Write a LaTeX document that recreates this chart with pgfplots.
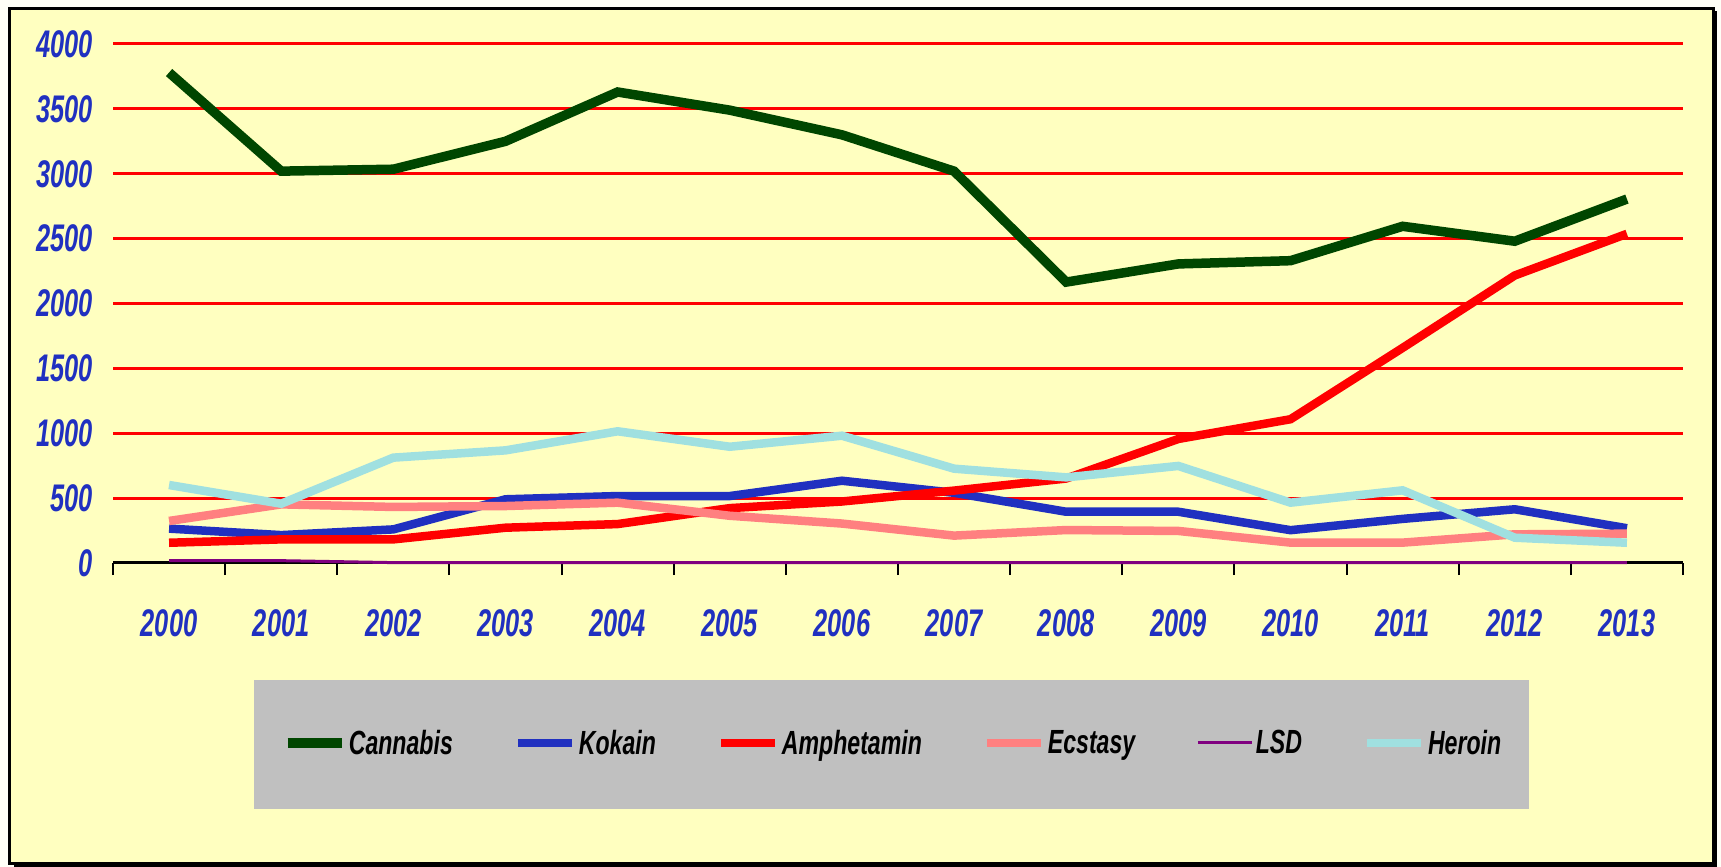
\documentclass[border=0pt]{standalone}
\usepackage{pgfplots}
\pgfplotsset{compat=1.18}
\usepackage{fontspec}
\setmainfont{Liberation Sans}
\newfontfamily\tickfont{Liberation Sans}[FakeStretch=0.66]
\newfontfamily\legfont{Liberation Sans}[FakeStretch=0.69]
\definecolor{bg}{HTML}{FFFFC0}
\definecolor{leggray}{HTML}{C0C0C0}
\definecolor{tickblue}{RGB}{32,48,192}
\definecolor{cannabis}{RGB}{0,70,0}
\definecolor{kokain}{RGB}{32,48,192}
\definecolor{amph}{RGB}{255,0,0}
\definecolor{ecstasy}{RGB}{255,128,128}
\definecolor{lsd}{RGB}{128,0,128}
\definecolor{heroin}{RGB}{160,224,224}
\begin{document}
\begin{tikzpicture}
\path[use as bounding box] (0pt,0pt) rectangle (1721pt,867pt);
\fill[white!97!yellow] (0pt,0pt) rectangle (1721pt,867pt);
\filldraw[fill=bg, draw=black, line width=3pt] (9.5pt,3pt) rectangle (1713pt,858.5pt);
\fill[black] (1711.5pt,0pt) rectangle (1717pt,856pt);
\fill[black] (14pt,0pt) rectangle (1717pt,4.5pt);
\fill[leggray] (254pt,58pt) rectangle (1529pt,187pt);
\begin{axis}[
  at={(113pt,304pt)}, anchor=origin,
  scale only axis, width=1570pt, height=519pt,
  xmin=0, xmax=14, ymin=0, ymax=4000,
  clip=false,
  axis x line*=bottom, axis y line*=left,
  y axis line style={draw=none},
  x axis line style={line width=3pt, black},
  xtick={0.5,1.5,...,13.5},
  xticklabels={2000,2001,2002,2003,2004,2005,2006,2007,2008,2009,2010,2011,2012,2013},
  major tick length=0pt,
  major x tick style={draw=none},
  minor xtick={0,1,...,14},
  minor tick length=12pt,
  minor x tick style={black, line width=2pt},
  tick align=outside,
  ytick={0,500,1000,1500,2000,2500,3000,3500,4000},
  yticklabels={0,500,1000,1500,2000,2500,3000,3500,4000},
  major y tick style={draw=none},
  ymajorgrids, y grid style={red, line width=3pt},
  xticklabel style={font=\tickfont\bfseries\itshape\fontsize{38.5}{38.5}\selectfont, text=tickblue, anchor=north, inner sep=0pt, yshift=-46pt},
  yticklabel style={font=\tickfont\bfseries\itshape\fontsize{38.5}{38.5}\selectfont, text=tickblue, anchor=east, inner sep=0pt, xshift=-20pt},
  legend style={at={(axis description cs:0.4962,-0.3468)}, anchor=center, draw=none, fill=none,
    legend columns=6, font=\legfont\bfseries\itshape\fontsize{33.5}{33.5}\selectfont,
    nodes={inner sep=0pt},
    /tikz/every odd column/.append style={column sep=2.5pt},
    /tikz/every even column/.append style={column sep=61pt}},
  legend image code/.code={\draw[#1] (0pt,0pt) -- (54pt,0pt);},
]
\addplot[cannabis, line width=9.5pt] coordinates {(0.5,3780) (1.5,3020) (2.5,3035) (3.5,3250) (4.5,3630) (5.5,3490) (6.5,3300) (7.5,3020) (8.5,2165) (9.5,2305) (10.5,2330) (11.5,2595) (12.5,2480) (13.5,2805)};
\addplot[kokain, line width=8.5pt] coordinates {(0.5,265) (1.5,215) (2.5,259) (3.5,491) (4.5,516) (5.5,516) (6.5,634) (7.5,541) (8.5,395) (9.5,395) (10.5,253) (11.5,340) (12.5,414) (13.5,268)};
\addplot[amph, line width=8.5pt] coordinates {(0.5,156) (1.5,182) (2.5,182) (3.5,272) (4.5,300) (5.5,423) (6.5,474) (7.5,558) (8.5,651) (9.5,956) (10.5,1108) (11.5,1658) (12.5,2216) (13.5,2537)};
\addplot[ecstasy, line width=8.5pt] coordinates {(0.5,324) (1.5,452) (2.5,432) (3.5,439) (4.5,465) (5.5,364) (6.5,304) (7.5,211) (8.5,254) (9.5,247) (10.5,157) (11.5,157) (12.5,221) (13.5,226)};
\addplot[lsd, line width=3pt] coordinates {(0.5,18) (1.5,18) (2.5,3) (3.5,2) (4.5,2) (5.5,2) (6.5,2) (7.5,2) (8.5,2) (9.5,2) (10.5,2) (11.5,2) (12.5,2) (13.5,2)};
\addplot[heroin, line width=8.5pt] coordinates {(0.5,601) (1.5,457) (2.5,812) (3.5,868) (4.5,1015) (5.5,896) (6.5,981) (7.5,727) (8.5,660) (9.5,748) (10.5,465) (11.5,560) (12.5,195) (13.5,156)};
\legend{Cannabis,Kokain,Amphetamin,Ecstasy,LSD,Heroin}
\end{axis}
\end{tikzpicture}
\end{document}
